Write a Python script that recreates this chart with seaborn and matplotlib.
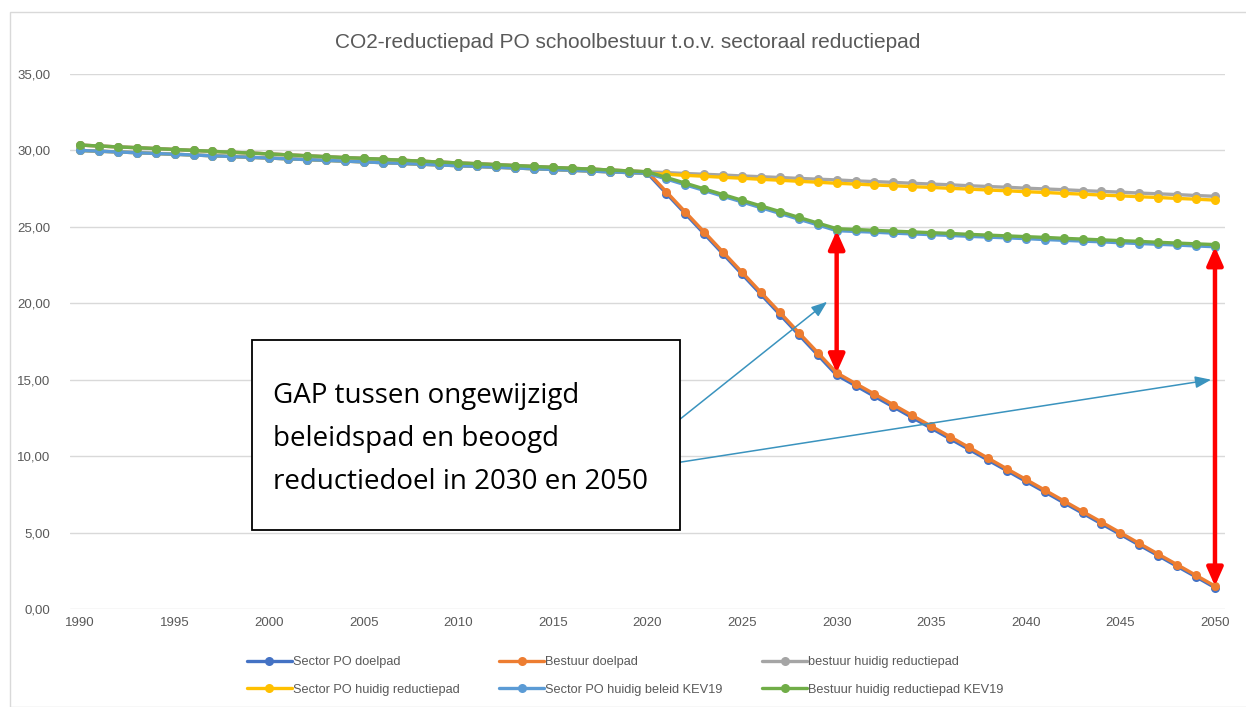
import matplotlib
matplotlib.use("Agg")
import matplotlib.pyplot as plt
from matplotlib.patches import Rectangle
from matplotlib.ticker import FuncFormatter, MultipleLocator
import pandas as pd
import seaborn as sns

# --- data ---
jaren = list(range(1990, 2051))

# 1990-2020: historische reeks, bestuur vs sector
hist_bestuur = [30.35, 30.29, 30.23, 30.18, 30.12, 30.06, 30.00, 29.94, 29.88, 29.83,
                29.77, 29.71, 29.65, 29.59, 29.53, 29.48, 29.42, 29.36, 29.30, 29.24,
                29.18, 29.13, 29.07, 29.01, 28.95, 28.89, 28.83, 28.78, 28.72, 28.66, 28.60]
hist_sector = [30.00, 29.95, 29.90, 29.85, 29.80, 29.75, 29.70, 29.65, 29.60, 29.55,
               29.50, 29.45, 29.40, 29.35, 29.30, 29.25, 29.20, 29.15, 29.10, 29.05,
               29.00, 28.95, 28.90, 28.85, 28.80, 28.75, 28.70, 28.65, 28.60, 28.55, 28.50]

# 2021-2050
sector_doelpad = [27.18, 25.86, 24.54, 23.22, 21.90, 20.58, 19.26, 17.94, 16.62, 15.30,
                  14.61, 13.91, 13.22, 12.52, 11.83, 11.13, 10.44, 9.74, 9.05, 8.35,
                  7.66, 6.96, 6.27, 5.57, 4.88, 4.18, 3.49, 2.79, 2.10, 1.40]
bestuur_doelpad = [27.29, 25.97, 24.66, 23.34, 22.03, 20.71, 19.40, 18.08, 16.77, 15.45,
                   14.75, 14.06, 13.36, 12.66, 11.96, 11.27, 10.57, 9.87, 9.17, 8.48,
                   7.78, 7.08, 6.38, 5.69, 4.99, 4.29, 3.59, 2.90, 2.20, 1.50]
bestuur_huidig = [28.55, 28.49, 28.44, 28.39, 28.33, 28.28, 28.23, 28.17, 28.12, 28.07,
                  28.01, 27.96, 27.91, 27.85, 27.80, 27.75, 27.69, 27.64, 27.59, 27.53,
                  27.48, 27.43, 27.37, 27.32, 27.27, 27.21, 27.16, 27.11, 27.05, 27.00]
sector_huidig = [28.44, 28.37, 28.31, 28.24, 28.18, 28.11, 28.05, 27.98, 27.92, 27.85,
                 27.80, 27.74, 27.69, 27.63, 27.58, 27.52, 27.47, 27.41, 27.36, 27.30,
                 27.25, 27.19, 27.14, 27.08, 27.03, 26.97, 26.92, 26.86, 26.81, 26.75]
sector_kev19 = [28.13, 27.75, 27.38, 27.00, 26.63, 26.25, 25.88, 25.50, 25.13, 24.75,
                24.70, 24.65, 24.59, 24.54, 24.49, 24.44, 24.38, 24.33, 24.28, 24.23,
                24.17, 24.12, 24.07, 24.02, 23.96, 23.91, 23.86, 23.81, 23.75, 23.70]
bestuur_kev19 = [28.23, 27.86, 27.48, 27.11, 26.74, 26.37, 26.00, 25.62, 25.25, 24.88,
                 24.83, 24.77, 24.72, 24.67, 24.62, 24.57, 24.51, 24.46, 24.41, 24.36,
                 24.31, 24.25, 24.20, 24.15, 24.10, 24.05, 23.99, 23.94, 23.89, 23.84]

reeksen = {
    "Sector PO doelpad": hist_sector + sector_doelpad,
    "Bestuur doelpad": hist_bestuur + bestuur_doelpad,
    "bestuur huidig reductiepad": hist_bestuur + bestuur_huidig,
    "Sector PO huidig reductiepad": hist_sector + sector_huidig,
    "Sector PO huidig beleid KEV19": hist_sector + sector_kev19,
    "Bestuur huidig reductiepad KEV19": hist_bestuur + bestuur_kev19,
}
kleuren = ["#4472C4", "#ED7D31", "#A5A5A5", "#FFC000", "#5B9BD5", "#70AD47"]

df = pd.DataFrame([
    {"jaar": j, "reeks": naam, "waarde": v}
    for naam, waarden in reeksen.items()
    for j, v in zip(jaren, waarden)
])

# --- plot ---
sns.set_theme(style="white")
plt.rcParams["font.family"] = ["Liberation Sans", "DejaVu Sans"]
grijs = "#595959"

fig = plt.figure(figsize=(12.46, 7.07), dpi=100)
ax = fig.add_axes([70 / 1246, 98 / 707, 1155 / 1246, 535 / 707])

sns.lineplot(data=df, x="jaar", y="waarde", hue="reeks", hue_order=list(reeksen),
             palette=kleuren, marker="o", markersize=6.5, markeredgewidth=0,
             linewidth=2.4, ax=ax, legend=True)

ax.set_xlim(1989.47, 2050.53)
ax.set_ylim(0, 35)
ax.xaxis.set_major_locator(MultipleLocator(5))
ax.yaxis.set_major_locator(MultipleLocator(5))
ax.yaxis.set_major_formatter(FuncFormatter(lambda v, p: f"{v:.2f}".replace(".", ",")))
ax.set_xlabel("")
ax.set_ylabel("")
ax.grid(axis="y", color="#D9D9D9", linewidth=1)
ax.set_axisbelow(True)
for s in ax.spines.values():
    s.set_visible(False)
ax.tick_params(axis="both", length=0, colors=grijs, labelsize=9.5)
ax.tick_params(axis="x", pad=6)
ax.tick_params(axis="y", pad=14)

fig.text(0.504, 0.94, "CO2-reductiepad PO schoolbestuur t.o.v. sectoraal reductiepad",
         ha="center", va="center", fontsize=15, color=grijs)

# legend: Excel fills row by row
handles, labels = ax.get_legend_handles_labels()
ax.get_legend().remove()
volgorde = [0, 3, 1, 4, 2, 5]
leg = fig.legend([handles[i] for i in volgorde], [labels[i] for i in volgorde],
                 ncol=3, loc="center", bbox_to_anchor=(0.502, 0.044), frameon=False,
                 fontsize=9.2, handlelength=3.5, handletextpad=0.1, columnspacing=3.1,
                 labelspacing=1.2, labelcolor=grijs)

# red GAP arrows 2030 / 2050
rood = "#FF0000"
for jaar in (2030, 2050):
    k = jaar - 2021
    ax.annotate("", xy=(jaar, bestuur_doelpad[k]), xytext=(jaar, sector_kev19[k]),
                arrowprops=dict(arrowstyle="<|-|>,head_length=0.9,head_width=0.4",
                                color=rood, lw=3.2, shrinkA=0, shrinkB=0), zorder=5)

# blue pointer arrows from the text box
blauw = "#3A93BE"
ax.annotate("", xy=(2029.5, 20.1), xytext=(2021.7, 12.4),
            arrowprops=dict(arrowstyle="-|>,head_length=0.8,head_width=0.3",
                            color=blauw, lw=1.1, shrinkA=0, shrinkB=0), zorder=4)
ax.annotate("", xy=(2049.8, 15.0), xytext=(2021.7, 9.6),
            arrowprops=dict(arrowstyle="-|>,head_length=0.8,head_width=0.3",
                            color=blauw, lw=1.1, shrinkA=0, shrinkB=0), zorder=4)

# text box
ax.add_patch(Rectangle((1999.1, 5.17), 22.6, 12.43, facecolor="white",
                       edgecolor="black", linewidth=1.3, zorder=6))
ax.text(2000.2, 11.12, "GAP tussen ongewijzigd\nbeleidspad en beoogd\nreductiedoel in 2030 en 2050",
        fontsize=20, family=["Open Sans", "DejaVu Sans"], color="black",
        ha="left", va="center", linespacing=1.72, zorder=7)

# chart area border
fig.patches.append(Rectangle((10 / 1246, 0), 1240 / 1246, 695 / 707, transform=fig.transFigure,
                             facecolor="none", edgecolor="#D9D9D9", linewidth=1))

plt.savefig("out.png", dpi=100)
plt.close()
